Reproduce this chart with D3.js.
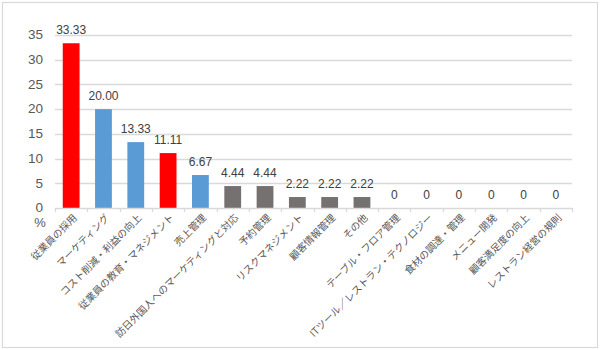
<!DOCTYPE html>
<html>
<head>
<meta charset="utf-8">
<script src="https://cdn.jsdelivr.net/npm/d3@7"></script>
<style>
  html, body { margin: 0; padding: 0; background: #fff; }
  svg { display: block; }
</style>
</head>
<body>
<svg id="chart" width="600" height="350"></svg>
<script>
// Survey items (share of respondents, %)
const categories = [
  "従業員の採用",
  "マーケティング",
  "コスト削減・利益の向上",
  "従業員の教育・マネジメント",
  "売上管理",
  "訪日外国人へのマーケティングと対応",
  "予約管理",
  "リスクマネジメント",
  "顧客情報管理",
  "その他",
  "テーブル・フロア管理",
  "ITツール／レストラン・テクノロジー",
  "食材の調達・管理",
  "メニュー開発",
  "顧客満足度の向上",
  "レストラン経営の規則"
];
const values = [33.33, 20.00, 13.33, 11.11, 6.67, 4.44, 4.44, 2.22, 2.22, 2.22, 0, 0, 0, 0, 0, 0];
// Grouping of each item (staff-related, business-related, others)
const groups = ["staff", "business", "business", "staff", "business",
  "other", "other", "other", "other", "other", "other", "other", "other", "other", "other", "other"];
const yTicks = [0, 5, 10, 15, 20, 25, 30, 35];

const svg = d3.select("#chart");
const W = 600, H = 350;
const margin = { left: 55, right: 28, top: 35, bottom: 142 };
const x0 = margin.left, x1 = W - margin.right;
const yBase = H - margin.bottom;

const x = d3.scaleBand()
  .domain(categories)
  .range([x0, x1])
  .paddingInner(0.48)
  .paddingOuter(0.24);
const y = d3.scaleLinear().domain([0, 35]).range([yBase, margin.top]);
const color = d3.scaleOrdinal()
  .domain(["staff", "business", "other"])
  .range(["#FF0000", "#5B9BD5", "#767171"]);

const font = "'Liberation Sans', Arial, 'Noto Sans CJK JP', sans-serif";

// outer frame
svg.append("rect")
  .attr("x", 2.5).attr("y", 2.5)
  .attr("width", W - 5).attr("height", H - 5)
  .attr("fill", "#fff").attr("stroke", "#D9D9D9").attr("stroke-width", 1.2);

// gridlines
svg.append("g")
  .selectAll("line")
  .data(yTicks.filter(t => t > 0))
  .join("line")
  .attr("x1", x0).attr("x2", x1)
  .attr("y1", d => Math.round(y(d)) + 0.5).attr("y2", d => Math.round(y(d)) + 0.5)
  .attr("stroke", "#D9D9D9").attr("stroke-width", 1.3);

// y axis labels
const yAxis = d3.axisLeft(y).tickValues(yTicks).tickSize(0).tickPadding(12);
const gy = svg.append("g").attr("transform", `translate(${x0},0)`).call(yAxis);
gy.select(".domain").remove();
gy.selectAll("text")
  .attr("fill", "#595959")
  .attr("dy", "0.28em")
  .style("font-family", font)
  .style("font-size", "13.5px");

// unit label
svg.append("text")
  .attr("x", 40).attr("y", 227)
  .attr("text-anchor", "middle")
  .attr("fill", "#595959")
  .style("font-family", font)
  .style("font-size", "13px")
  .text("%");

// bars
svg.append("g")
  .selectAll("rect")
  .data(categories)
  .join("rect")
  .attr("x", d => x(d))
  .attr("width", x.bandwidth())
  .attr("y", (d, i) => y(values[i]))
  .attr("height", (d, i) => yBase - y(values[i]))
  .attr("fill", (d, i) => color(groups[i]));

// category axis line and ticks between categories
const boundaries = d3.range(categories.length + 1).map(i => x0 + i * (x1 - x0) / categories.length);
svg.append("line")
  .attr("x1", x0).attr("x2", x1)
  .attr("y1", yBase + 0.5).attr("y2", yBase + 0.5)
  .attr("stroke", "#D9D9D9").attr("stroke-width", 1.3);
svg.append("g")
  .selectAll("line")
  .data(boundaries)
  .join("line")
  .attr("x1", d => Math.round(d) + 0.5).attr("x2", d => Math.round(d) + 0.5)
  .attr("y1", yBase).attr("y2", yBase + 4)
  .attr("stroke", "#D9D9D9").attr("stroke-width", 1.3);

// value labels
svg.append("g")
  .selectAll("text")
  .data(categories)
  .join("text")
  .attr("x", d => x(d) + x.bandwidth() / 2)
  .attr("y", (d, i) => y(values[i]) - 9)
  .attr("text-anchor", "middle")
  .attr("fill", "#404040")
  .style("font-family", font)
  .style("font-size", "12px")
  .text((d, i) => values[i] === 0 ? "0" : values[i].toFixed(2));

// rotated category labels
svg.append("g")
  .selectAll("text")
  .data(categories)
  .join("text")
  .attr("transform", d => `translate(${x(d) + x.bandwidth() / 2 + 4},${yBase + 8}) rotate(-45)`)
  .attr("text-anchor", "end")
  .attr("dy", "0.35em")
  .attr("fill", "#595959")
  .style("font-family", "'Noto Sans CJK JP', sans-serif")
  .style("font-size", "10px")
  .text(d => d);
</script>
</body>
</html>
